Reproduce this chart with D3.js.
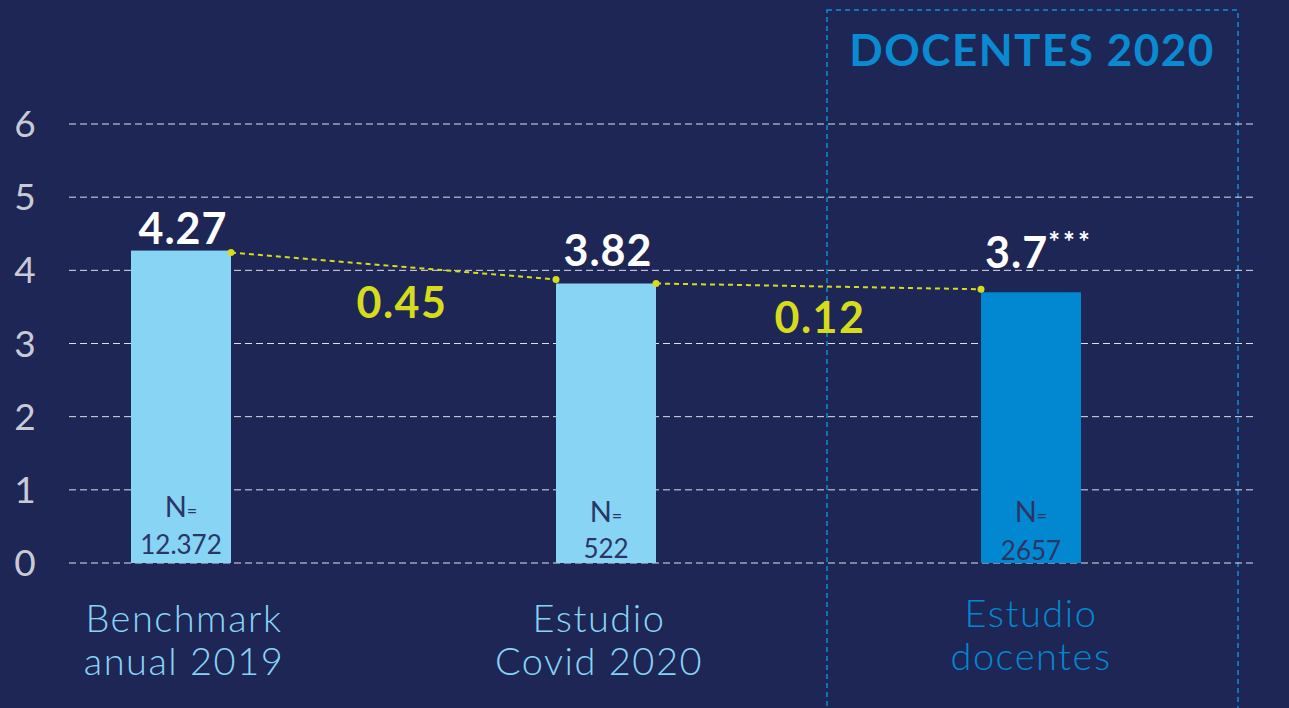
<!DOCTYPE html>
<html>
<head>
<meta charset="utf-8">
<script src="https://cdn.jsdelivr.net/npm/d3@7"></script>
<style>
	body { margin: 0; background: #1e2656; }
	svg { display: block; }
</style>
</head>
<body>
<svg width="1289" height="708"></svg>
<script>
var categories = ["Benchmark|anual 2019", "Estudio|Covid 2020", "Estudio|docentes"];
var values = [4.27, 3.82, 3.7];
var valueLabels = ["4.27", "3.82", "3.7"];
var nLabels = ["12.372", "522", "2657"];
var diffLabels = ["0.45", "0.12"];
var yTicks = [0, 1, 2, 3, 4, 5, 6];

var svg = d3.select("svg"),
	width = +svg.attr("width"),
	height = +svg.attr("height"),
	barW = 100;

var light = "#87d4f5",
	dark = "#0288d1",
	yellow = "#d6dc1c";

var x = d3.scalePoint().domain(categories).range([181, 1031]);
var y = d3.scaleLinear().domain([0, 6]).range([563, 124]);

// dashed frame for the docentes group
svg.append("rect")
	.attr("x", 827).attr("y", 10)
	.attr("width", 411).attr("height", 720)
	.attr("fill", "none")
	.attr("stroke", "#0a8fd8")
	.attr("stroke-width", 1.5)
	.attr("stroke-dasharray", "5,4");

svg.append("text")
	.attr("x", 1032).attr("y", 66)
	.attr("text-anchor", "middle")
	.attr("font-family", "Lato, sans-serif")
	.attr("font-weight", "bold")
	.attr("font-size", 44)
	.attr("letter-spacing", 1.5)
	.attr("fill", "#0a8ad0")
	.text("DOCENTES 2020");

// grid
svg.append("g")
	.selectAll("line")
	.data(yTicks)
	.enter().append("line")
	.attr("x1", 69).attr("x2", 1255)
	.attr("y1", function (d) { return y(d); })
	.attr("y2", function (d) { return y(d); })
	.attr("stroke", "#dde0ea")
	.attr("stroke-width", 1)
	.attr("stroke-dasharray", "7,4");

svg.append("g")
	.selectAll("text")
	.data(yTicks)
	.enter().append("text")
	.attr("x", 25)
	.attr("y", function (d) { return y(d) + 13; })
	.attr("text-anchor", "middle")
	.attr("font-family", "Lato, sans-serif")
	.attr("font-size", 37)
	.attr("fill", "#c9cad6")
	.text(function (d) { return d; });

// bars
svg.append("g")
	.selectAll("rect")
	.data(values)
	.enter().append("rect")
	.attr("x", function (d, i) { return x(categories[i]) - barW / 2; })
	.attr("y", function (d) { return y(d); })
	.attr("width", barW)
	.attr("height", function (d) { return y(0) - y(d); })
	.attr("fill", function (d, i) { return i == 2 ? dark : light; });

// value labels
var vl = svg.append("g")
	.selectAll("text")
	.data(values)
	.enter().append("text")
	.attr("x", function (d, i) { return x(categories[i]) + (i == 2 ? 8 : 2); })
	.attr("y", function (d, i) { return y(d) - (i == 0 ? 7 : (i == 1 ? 18 : 24)); })
	.attr("text-anchor", "middle")
	.attr("font-family", "Lato, sans-serif")
	.attr("font-weight", "bold")
	.attr("font-size", 43)
	.attr("letter-spacing", 1)
	.attr("fill", "#ffffff");
vl.append("tspan").text(function (d, i) { return valueLabels[i]; });
vl.filter(function (d, i) { return i == 2; })
	.append("tspan")
	.attr("dy", -16)
	.attr("font-size", 28)
	.attr("letter-spacing", 3)
	.text("***");

// N labels
var nl = svg.append("g")
	.selectAll("g")
	.data(nLabels)
	.enter().append("g");
nl.append("text")
	.attr("x", function (d, i) { return x(categories[i]); })
	.attr("y", function (d, i) { return i == 0 ? 517 : 522; })
	.attr("text-anchor", "middle")
	.attr("font-family", "Lato, sans-serif")
	.attr("font-weight", 400)
	.attr("font-size", 29)
	.attr("fill", "#2b3566")
	.html('N<tspan font-size="18">=</tspan>');
nl.append("text")
	.attr("x", function (d, i) { return x(categories[i]); })
	.attr("y", function (d, i) { return i == 0 ? 554 : (i == 1 ? 558 : 560); })
	.attr("text-anchor", "middle")
	.attr("font-family", "Lato, sans-serif")
	.attr("font-weight", 400)
	.attr("font-size", 26)
	.attr("fill", "#2b3566")
	.text(function (d) { return d; });

// change connectors
var segs = [[0, 1], [1, 2]];
segs.forEach(function (s, k) {
	var x1 = x(categories[s[0]]) + barW / 2,
		y1 = y(values[s[0]]) + (k == 0 ? 2 : 0),
		x2 = x(categories[s[1]]) - barW / 2,
		y2 = y(values[s[1]]) + (k == 0 ? -4 : -3);
	svg.append("line")
		.attr("x1", x1).attr("y1", y1)
		.attr("x2", x2).attr("y2", y2)
		.attr("stroke", yellow)
		.attr("stroke-width", 2)
		.attr("stroke-dasharray", "5,4");
	svg.append("circle").attr("cx", x1).attr("cy", y1).attr("r", 3.5).attr("fill", yellow);
	svg.append("circle").attr("cx", x2).attr("cy", y2).attr("r", 3.5).attr("fill", yellow);
	svg.append("text")
		.attr("x", k == 0 ? 402 : 820)
		.attr("y", k == 0 ? 318 : 333)
		.attr("text-anchor", "middle")
		.attr("font-family", "Lato, sans-serif")
		.attr("font-weight", "bold")
		.attr("font-size", 43)
		.attr("letter-spacing", 1.5)
		.attr("fill", yellow)
		.text(diffLabels[k]);
});

// category labels
var cl = svg.append("g")
	.selectAll("text")
	.data(categories)
	.enter().append("text")
	.attr("x", function (d, i) { return x(d) + (i == 0 ? 3 : (i == 1 ? -7 : 0)); })
	.attr("y", function (d, i) { return i == 2 ? 627 : 632; })
	.attr("text-anchor", "middle")
	.attr("font-family", "Lato, sans-serif")
	.attr("font-weight", 300)
	.attr("font-size", 38)
	.attr("letter-spacing", 1.5)
	.attr("fill", function (d, i) { return i == 2 ? dark : light; });
cl.each(function (d) {
	var t = d3.select(this), parts = d.split("|"), cx = t.attr("x");
	parts.forEach(function (p, j) {
		t.append("tspan").attr("x", cx).attr("dy", j == 0 ? 0 : 43).text(p);
	});
});
</script>
</body>
</html>
